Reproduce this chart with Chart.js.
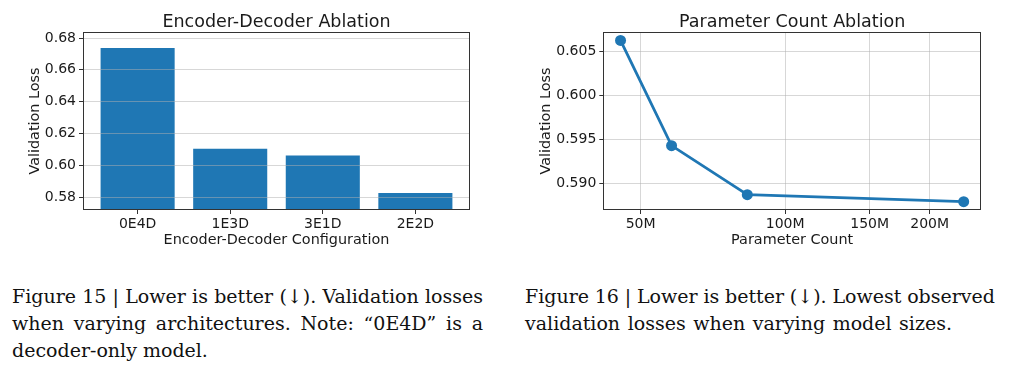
<!DOCTYPE html>
<html><head><meta charset="utf-8">
<script src="https://cdn.jsdelivr.net/npm/chart.js@4.4.1/dist/chart.umd.min.js"></script>
<style>
html,body{margin:0;padding:0;background:#fff;width:1024px;height:366px;overflow:hidden;position:relative}
canvas.c{position:absolute;top:0}
.cap{position:absolute;font-family:'DejaVu Serif';font-size:19px;line-height:27px;color:#111;white-space:nowrap}
.cap span{display:inline-block}
</style></head><body>
<canvas id="left" class="c" width="500" height="250" style="left:0"></canvas>
<canvas id="right" class="c" width="504" height="250" style="left:520px"></canvas>
<div class="cap" style="left:12px;top:282.6px">
<span data-w="471">Figure 15 | Lower is better (↓). Validation losses</span><br>
<span data-w="471">when varying architectures. Note: “0E4D” is a</span><br>
<span>decoder-only model.</span>
</div>
<div class="cap" style="left:525px;top:282.6px">
<span data-w="470">Figure 16 | Lower is better (↓). Lowest observed</span><br>
<span data-w="427">validation losses when varying model sizes.</span>
</div>
<script>
// ---- data ----
const barCategories = ['0E4D', '1E3D', '3E1D', '2E2D'];
const barLosses = [0.6737, 0.6104, 0.6062, 0.5827];
const barYTicks = [0.58, 0.60, 0.62, 0.64, 0.66, 0.68];

const paramCounts = [45.4e6, 58.0e6, 83.4e6, 235.5e6];
const paramLosses = [0.60625, 0.59428, 0.5887, 0.58791];
const paramXTicks = [50e6, 100e6, 150e6, 200e6];
const paramXTickLabels = ['50M', '100M', '150M', '200M'];
const paramYTicks = [0.590, 0.595, 0.600, 0.605];

// ---- justify caption lines ----
document.querySelectorAll('.cap span[data-w]').forEach(el => {
  const target = +el.dataset.w;
  const w = el.getBoundingClientRect().width;
  const spaces = (el.textContent.match(/ /g) || []).length;
  if (spaces) el.style.wordSpacing = ((target - w) / spaces) + 'px';
});

Chart.defaults.font.family = 'DejaVu Sans';
Chart.defaults.color = '#1a1a1a';

const BLUE = '#1f77b4';
const GRID = 'rgba(176,176,176,0.5)';
const SPINE = '#333';

const frame = {
  id: 'frame',
  afterDraw(chart) {
    const {ctx, chartArea: a} = chart;
    ctx.save();
    ctx.strokeStyle = SPINE;
    ctx.lineWidth = 1;
    const l = Math.round(a.left) + 0.5, t = Math.round(a.top) + 0.5;
    const r = Math.round(a.right) - 0.5, b = Math.round(a.bottom) - 0.5;
    ctx.strokeRect(l, t, r - l, b - t);
    ctx.restore();
  }
};

const tickFont = {size: 14};
const labelFont = {size: 14.4};
const titleOpts = (text) => ({
  display: true, text, fullSize: false, color: '#1a1a1a',
  font: {size: 17.5, weight: 'normal', lineHeight: 1},
  padding: {top: 13.5, bottom: 1}
});

new Chart(document.getElementById('left'), {
  type: 'bar',
  data: {
    datasets: [{
      data: barCategories.map((c, i) => ({x: i, y: barLosses[i]})),
      backgroundColor: BLUE, borderWidth: 0,
      barPercentage: 0.8, categoryPercentage: 1
    }]
  },
  options: {
    responsive: false, animation: false, devicePixelRatio: 1,
    layout: {padding: {top: 0, right: 30, bottom: 0, left: 0}},
    plugins: {legend: {display: false}, tooltip: {enabled: false}, title: titleOpts('Encoder-Decoder Ablation')},
    scales: {
      x: {
        type: 'linear', min: -0.59, max: 3.59, offset: false,
        afterBuildTicks: s => { s.ticks = barCategories.map((_, i) => ({value: i})); },
        afterFit: s => { s.height = 40; },
        ticks: {font: tickFont, padding: 2, maxRotation: 0, autoSkip: false,
                callback: v => barCategories[v] ?? ''},
        grid: {drawOnChartArea: false, drawTicks: true, tickLength: 4, tickColor: SPINE, offset: false},
        border: {display: false},
        title: {display: true, text: 'Encoder-Decoder Configuration', font: labelFont, padding: {top: 0, bottom: 1.5}}
      },
      y: {
        min: 0.57201, max: 0.68377, beginAtZero: false,
        afterBuildTicks: s => { s.ticks = barYTicks.map(v => ({value: v})); },
        afterFit: s => { s.width = 83; },
        ticks: {font: tickFont, padding: 3, callback: v => v.toFixed(2)},
        grid: {color: GRID, lineWidth: 1, z: 1, drawTicks: true, tickLength: 4, tickColor: SPINE},
        border: {display: false},
        title: {display: true, text: 'Validation Loss', font: labelFont, padding: {top: 26.4, bottom: 0}}
      }
    }
  },
  plugins: [frame]
});

new Chart(document.getElementById('right'), {
  type: 'line',
  data: {
    datasets: [{
      data: paramCounts.map((x, i) => ({x, y: paramLosses[i]})),
      borderColor: BLUE, backgroundColor: BLUE, borderWidth: 2.8,
      pointRadius: 5.5, pointBackgroundColor: BLUE, pointBorderWidth: 0,
      tension: 0, clip: false
    }]
  },
  options: {
    responsive: false, animation: false, devicePixelRatio: 1,
    layout: {padding: {top: 0, right: 43, bottom: 0, left: 0}},
    plugins: {legend: {display: false}, tooltip: {enabled: false}, title: titleOpts('Parameter Count Ablation')},
    scales: {
      x: {
        type: 'logarithmic', min: 41.8e6, max: 255.9e6,
        afterBuildTicks: s => { s.ticks = paramXTicks.map(v => ({value: v})); },
        afterFit: s => { s.height = 40; },
        ticks: {font: tickFont, padding: 2, maxRotation: 0, autoSkip: false,
                callback: v => { const i = paramXTicks.indexOf(v); return i >= 0 ? paramXTickLabels[i] : ''; }},
        grid: {color: GRID, lineWidth: 1, drawTicks: true, tickLength: 4, tickColor: SPINE},
        border: {display: false},
        title: {display: true, text: 'Parameter Count', font: labelFont, padding: {top: 0, bottom: 1.5}}
      },
      y: {
        min: 0.58696, max: 0.60721,
        afterBuildTicks: s => { s.ticks = paramYTicks.map(v => ({value: v})); },
        afterFit: s => { s.width = 83.3; },
        ticks: {font: tickFont, padding: 3, callback: v => v.toFixed(3)},
        grid: {color: GRID, lineWidth: 1, drawTicks: true, tickLength: 4, tickColor: SPINE},
        border: {display: false},
        title: {display: true, text: 'Validation Loss', font: labelFont, padding: {top: 18, bottom: 0}}
      }
    }
  },
  plugins: [frame]
});
</script>
</body></html>
